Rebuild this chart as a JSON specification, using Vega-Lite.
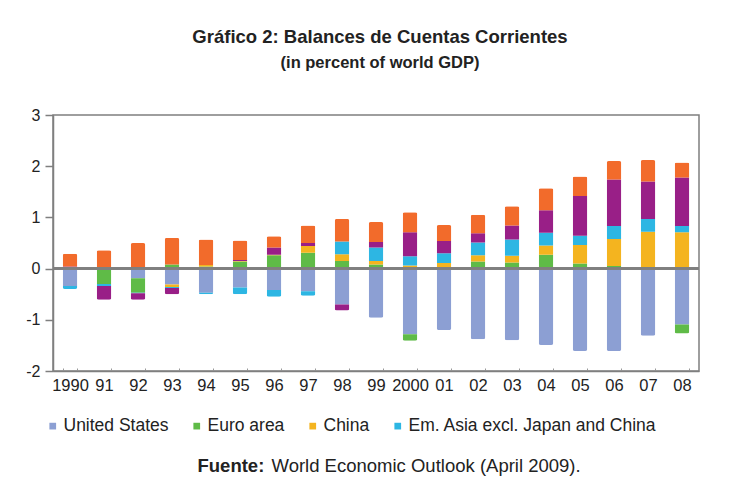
{
  "$schema": "https://vega.github.io/schema/vega-lite/v6.json",
  "width": 646,
  "height": 256,
  "autosize": {"type": "none"},
  "padding": {"left": 53, "top": 115, "right": 42, "bottom": 115},
  "background": "white",
  "title": {
    "text": "Gráfico 2: Balances de Cuentas Corrientes",
    "subtitle": "(in percent of world GDP)",
    "fontSize": 18.5,
    "fontWeight": "bold",
    "subtitleFontSize": 16.5,
    "subtitleFontWeight": "bold",
    "subtitlePadding": 8,
    "color": "#222222",
    "subtitleColor": "#222222",
    "anchor": "middle",
    "dx": 4,
    "offset": 36
  },
  "data": {
    "values": [
      {"year": "1990", "series": "United States", "value": -0.34},
      {"year": "1990", "series": "Euro area", "value": 0.0},
      {"year": "1990", "series": "China", "value": 0.02},
      {"year": "1990", "series": "Em. Asia excl. Japan and China", "value": -0.06},
      {"year": "1990", "series": "Oil exporters", "value": 0.02},
      {"year": "1990", "series": "Japan", "value": 0.25},
      {"year": "91", "series": "United States", "value": -0.01},
      {"year": "91", "series": "Euro area", "value": -0.29},
      {"year": "91", "series": "China", "value": 0.03},
      {"year": "91", "series": "Em. Asia excl. Japan and China", "value": -0.04},
      {"year": "91", "series": "Oil exporters", "value": -0.27},
      {"year": "91", "series": "Japan", "value": 0.33},
      {"year": "92", "series": "United States", "value": -0.19},
      {"year": "92", "series": "Euro area", "value": -0.28},
      {"year": "92", "series": "China", "value": 0.01},
      {"year": "92", "series": "Em. Asia excl. Japan and China", "value": -0.01},
      {"year": "92", "series": "Oil exporters", "value": -0.13},
      {"year": "92", "series": "Japan", "value": 0.49},
      {"year": "93", "series": "United States", "value": -0.31},
      {"year": "93", "series": "Euro area", "value": 0.08},
      {"year": "93", "series": "China", "value": -0.05},
      {"year": "93", "series": "Em. Asia excl. Japan and China", "value": -0.02},
      {"year": "93", "series": "Oil exporters", "value": -0.12},
      {"year": "93", "series": "Japan", "value": 0.52},
      {"year": "94", "series": "United States", "value": -0.47},
      {"year": "94", "series": "Euro area", "value": 0.04},
      {"year": "94", "series": "China", "value": 0.03},
      {"year": "94", "series": "Em. Asia excl. Japan and China", "value": -0.03},
      {"year": "94", "series": "Oil exporters", "value": 0.0},
      {"year": "94", "series": "Japan", "value": 0.5},
      {"year": "95", "series": "United States", "value": -0.37},
      {"year": "95", "series": "Euro area", "value": 0.14},
      {"year": "95", "series": "China", "value": 0.01},
      {"year": "95", "series": "Em. Asia excl. Japan and China", "value": -0.13},
      {"year": "95", "series": "Oil exporters", "value": 0.02},
      {"year": "95", "series": "Japan", "value": 0.38},
      {"year": "96", "series": "United States", "value": -0.42},
      {"year": "96", "series": "Euro area", "value": 0.26},
      {"year": "96", "series": "China", "value": 0.01},
      {"year": "96", "series": "Em. Asia excl. Japan and China", "value": -0.13},
      {"year": "96", "series": "Oil exporters", "value": 0.14},
      {"year": "96", "series": "Japan", "value": 0.22},
      {"year": "97", "series": "United States", "value": -0.44},
      {"year": "97", "series": "Euro area", "value": 0.31},
      {"year": "97", "series": "China", "value": 0.13},
      {"year": "97", "series": "Em. Asia excl. Japan and China", "value": -0.09},
      {"year": "97", "series": "Oil exporters", "value": 0.06},
      {"year": "97", "series": "Japan", "value": 0.34},
      {"year": "98", "series": "United States", "value": -0.7},
      {"year": "98", "series": "Euro area", "value": 0.15},
      {"year": "98", "series": "China", "value": 0.13},
      {"year": "98", "series": "Em. Asia excl. Japan and China", "value": 0.25},
      {"year": "98", "series": "Oil exporters", "value": -0.12},
      {"year": "98", "series": "Japan", "value": 0.44},
      {"year": "99", "series": "United States", "value": -0.96},
      {"year": "99", "series": "Euro area", "value": 0.08},
      {"year": "99", "series": "China", "value": 0.07},
      {"year": "99", "series": "Em. Asia excl. Japan and China", "value": 0.26},
      {"year": "99", "series": "Oil exporters", "value": 0.11},
      {"year": "99", "series": "Japan", "value": 0.39},
      {"year": "2000", "series": "United States", "value": -1.28},
      {"year": "2000", "series": "Euro area", "value": -0.13},
      {"year": "2000", "series": "China", "value": 0.06},
      {"year": "2000", "series": "Em. Asia excl. Japan and China", "value": 0.18},
      {"year": "2000", "series": "Oil exporters", "value": 0.47},
      {"year": "2000", "series": "Japan", "value": 0.39},
      {"year": "01", "series": "United States", "value": -1.2},
      {"year": "01", "series": "Euro area", "value": 0.01},
      {"year": "01", "series": "China", "value": 0.1},
      {"year": "01", "series": "Em. Asia excl. Japan and China", "value": 0.19},
      {"year": "01", "series": "Oil exporters", "value": 0.24},
      {"year": "01", "series": "Japan", "value": 0.31},
      {"year": "02", "series": "United States", "value": -1.38},
      {"year": "02", "series": "Euro area", "value": 0.14},
      {"year": "02", "series": "China", "value": 0.12},
      {"year": "02", "series": "Em. Asia excl. Japan and China", "value": 0.25},
      {"year": "02", "series": "Oil exporters", "value": 0.18},
      {"year": "02", "series": "Japan", "value": 0.36},
      {"year": "03", "series": "United States", "value": -1.4},
      {"year": "03", "series": "Euro area", "value": 0.12},
      {"year": "03", "series": "China", "value": 0.13},
      {"year": "03", "series": "Em. Asia excl. Japan and China", "value": 0.32},
      {"year": "03", "series": "Oil exporters", "value": 0.27},
      {"year": "03", "series": "Japan", "value": 0.38},
      {"year": "04", "series": "United States", "value": -1.49},
      {"year": "04", "series": "Euro area", "value": 0.27},
      {"year": "04", "series": "China", "value": 0.18},
      {"year": "04", "series": "Em. Asia excl. Japan and China", "value": 0.25},
      {"year": "04", "series": "Oil exporters", "value": 0.44},
      {"year": "04", "series": "Japan", "value": 0.43},
      {"year": "05", "series": "United States", "value": -1.61},
      {"year": "05", "series": "Euro area", "value": 0.1},
      {"year": "05", "series": "China", "value": 0.36},
      {"year": "05", "series": "Em. Asia excl. Japan and China", "value": 0.18},
      {"year": "05", "series": "Oil exporters", "value": 0.78},
      {"year": "05", "series": "Japan", "value": 0.38},
      {"year": "06", "series": "United States", "value": -1.61},
      {"year": "06", "series": "Euro area", "value": 0.05},
      {"year": "06", "series": "China", "value": 0.53},
      {"year": "06", "series": "Em. Asia excl. Japan and China", "value": 0.25},
      {"year": "06", "series": "Oil exporters", "value": 0.91},
      {"year": "06", "series": "Japan", "value": 0.36},
      {"year": "07", "series": "United States", "value": -1.31},
      {"year": "07", "series": "Euro area", "value": 0.03},
      {"year": "07", "series": "China", "value": 0.69},
      {"year": "07", "series": "Em. Asia excl. Japan and China", "value": 0.25},
      {"year": "07", "series": "Oil exporters", "value": 0.73},
      {"year": "07", "series": "Japan", "value": 0.42},
      {"year": "08", "series": "United States", "value": -1.09},
      {"year": "08", "series": "Euro area", "value": -0.18},
      {"year": "08", "series": "China", "value": 0.71},
      {"year": "08", "series": "Em. Asia excl. Japan and China", "value": 0.12},
      {"year": "08", "series": "Oil exporters", "value": 0.95},
      {"year": "08", "series": "Japan", "value": 0.29}
    ]
  },
  "transform": [
    {"calculate": "indexof(['United States','Euro area','China','Em. Asia excl. Japan and China','Oil exporters','Japan'], datum.series)", "as": "stackOrder"}
  ],
  "layer": [
    {
      "mark": {"type": "bar", "cornerRadius": 2},
      "encoding": {
        "x": {
          "field": "year",
          "type": "nominal",
          "sort": null,
          "scale": {"paddingInner": 0.57, "paddingOuter": 0.285},
          "axis": {
            "title": "World Economic Outlook (April 2009).",
            "titleFontWeight": "normal",
            "titleFontSize": 18.5,
            "titleColor": "#222222",
            "titleX": 218,
            "titleY": 94,
            "titleAlign": "left",
            "titleBaseline": "middle",
            "titleLimit": 0,
            "labelAngle": 0,
            "labelFontSize": 16.5,
            "labelColor": "#222222",
            "labelPadding": 9,
            "tickBand": "extent",
            "tickSize": -3,
            "tickColor": "#999999",
            "domainColor": "#7f7f7f",
            "domainWidth": 1.5
          }
        },
        "y": {
          "field": "value",
          "type": "quantitative",
          "stack": "zero",
          "scale": {"domain": [-2, 3], "nice": false},
          "axis": {
            "values": [-2, -1, 0, 1, 2, 3],
            "labelExpr": "'' + datum.value",
            "grid": false,
            "title": "Fuente:",
            "titleAngle": 0,
            "titleX": 144,
            "titleY": 350,
            "titleAlign": "left",
            "titleBaseline": "middle",
            "titleFontSize": 18.5,
            "titleFontWeight": "bold",
            "titleColor": "#222222",
            "labelFontSize": 16,
            "labelColor": "#222222",
            "labelPadding": 5,
            "tickSize": 8,
            "tickColor": "#7f7f7f",
            "tickWidth": 1.5,
            "domainColor": "#7f7f7f",
            "domainWidth": 1.5
          }
        },
        "order": {"field": "stackOrder", "type": "quantitative", "sort": "ascending"},
        "color": {
          "field": "series",
          "type": "nominal",
          "scale": {
            "domain": ["United States", "Euro area", "China", "Em. Asia excl. Japan and China", "Oil exporters", "Japan"],
            "range": ["#8c9fd3", "#5fbb47", "#f4b41f", "#2db6e3", "#991f87", "#f26b2b"]
          },
          "legend": {
            "values": ["United States", "Euro area", "China", "Em. Asia excl. Japan and China"],
            "orient": "none",
            "legendX": -9,
            "legendY": 302,
            "direction": "horizontal",
            "title": null,
            "symbolType": "square",
            "symbolSize": 45,
            "symbolStrokeWidth": 0,
            "labelFontSize": 17.5,
            "labelColor": "#222222",
            "labelOffset": 2,
            "labelLimit": 0,
            "columnPadding": 19
          }
        }
      }
    },
    {
      "mark": {"type": "rule", "color": "#7f7f7f", "strokeWidth": 1.5},
      "encoding": {"y": {"datum": 0, "type": "quantitative"}}
    }
  ],
  "config": {
    "font": "Liberation Sans",
    "view": {"stroke": "#7f7f7f", "strokeWidth": 1.5}
  }
}
